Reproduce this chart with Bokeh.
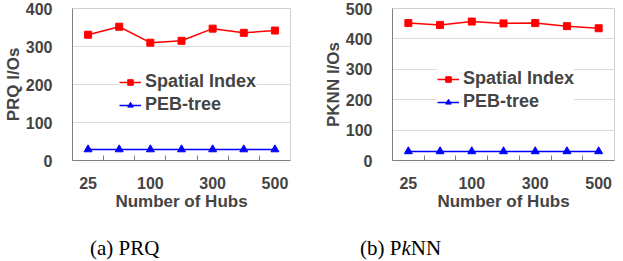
from bokeh.plotting import figure
from bokeh.layouts import row, column
from bokeh.models import FixedTicker, Range1d, Legend, LegendItem, Div
from bokeh.embed import file_html
from bokeh.resources import INLINE

hubs = [25, 50, 100, 200, 300, 400, 500]
shown_hub_labels = [25, 100, 300, 500]
prq_spatial = [331, 352, 310, 315, 347, 336, 342]
prq_peb = [29, 29, 29, 29, 29, 29, 29]
pknn_spatial = [452, 446, 457, 451, 452, 442, 435]
pknn_peb = [30, 30, 30, 30, 30, 30, 30]
captions = ["(a) PRQ", "(b) P<i>k</i>NN"]

FONT = "Liberation Sans"
SERIF = "Liberation Serif"


def make(width, ylabel, ymax, spatial, peb, min_left, min_right, legend_xy):
    xs = list(range(len(hubs)))
    p = figure(width=width, height=213, output_backend="svg", toolbar_location=None,
               x_range=Range1d(-0.5, len(hubs) - 0.5), y_range=Range1d(0, ymax),
               min_border_left=min_left, min_border_right=min_right,
               min_border_top=8, min_border_bottom=50)
    p.outline_line_color = "#d0d0d0"
    p.xgrid.visible = False
    p.ygrid.grid_line_color = "#dcdcdc"
    p.ygrid.ticker = FixedTicker(ticks=list(range(0, ymax + 1, 100)))

    xa = p.xaxis[0]
    idx = [hubs.index(h) for h in shown_hub_labels]
    xa.ticker = FixedTicker(ticks=idx, minor_ticks=[i + 0.5 for i in xs[:-1]])
    xa.major_label_overrides = {i: str(hubs[i]) for i in idx}
    xa.major_tick_line_color = None
    xa.minor_tick_in = 5
    xa.minor_tick_out = 0
    xa.minor_tick_line_color = "#808080"
    xa.axis_line_color = "#808080"
    xa.major_label_standoff = 10
    xa.major_label_text_font = FONT
    xa.major_label_text_font_style = "bold"
    xa.major_label_text_font_size = "16px"
    xa.axis_label = "Number of Hubs"
    xa.axis_label_text_font = FONT
    xa.axis_label_text_font_style = "bold"
    xa.axis_label_text_font_size = "17px"
    xa.axis_label_standoff = 0

    ya = p.yaxis[0]
    ya.ticker = FixedTicker(ticks=list(range(0, ymax + 1, 100)))
    ya.major_tick_line_color = None
    ya.minor_tick_line_color = None
    ya.axis_line_color = "#808080"
    ya.major_label_standoff = 14
    ya.major_label_text_font = FONT
    ya.major_label_text_font_style = "bold"
    ya.major_label_text_font_size = "16px"
    ya.axis_label = ylabel
    ya.axis_label_text_font = FONT
    ya.axis_label_text_font_style = "bold"
    ya.axis_label_text_font_size = "17px"
    ya.axis_label_standoff = 0

    r1 = p.line(xs, spatial, line_color="#ff0000", line_width=1.5)
    m1 = p.scatter(xs, spatial, marker="square", size=7, fill_color="#ff0000", line_color="#ff0000")
    r2 = p.line(xs, peb, line_color="#0000ff", line_width=1.5)
    m2 = p.scatter(xs, peb, marker="triangle", size=8, fill_color="#0000ff", line_color="#0000ff")

    leg = Legend(items=[LegendItem(label="Spatial Index", renderers=[r1, m1]),
                        LegendItem(label="PEB-tree", renderers=[r2, m2])],
                 location=legend_xy, border_line_color=None, background_fill_color="white",
                 background_fill_alpha=1.0, label_text_font=FONT, label_text_font_style="bold",
                 label_text_font_size="18px", glyph_width=22, glyph_height=14, label_height=20,
                 spacing=2, padding=6, margin=0, label_standoff=4)
    p.add_layout(leg, "center")
    return p


def caption(text, width, pad_left):
    html = ('<div style="font-family:\'%s\';font-size:21px;color:black;white-space:nowrap;'
            'padding-left:%dpx;padding-top:24px;line-height:1.1;">%s</div>' % (SERIF, pad_left, text))
    return Div(text=html, width=width, height=44, margin=0)


p1 = make(320, "PRQ I/Os", 400, prq_spatial, prq_peb, 61, 30, (47, 45))
p2 = make(295, "PKNN I/Os", 500, pknn_spatial, pknn_peb, 64, 1, (45, 48))

layout = column(row(p1, p2), row(caption(captions[0], 320, 90), caption(captions[1], 295, 40)))
open("out.html", "w").write(file_html(layout, INLINE))
